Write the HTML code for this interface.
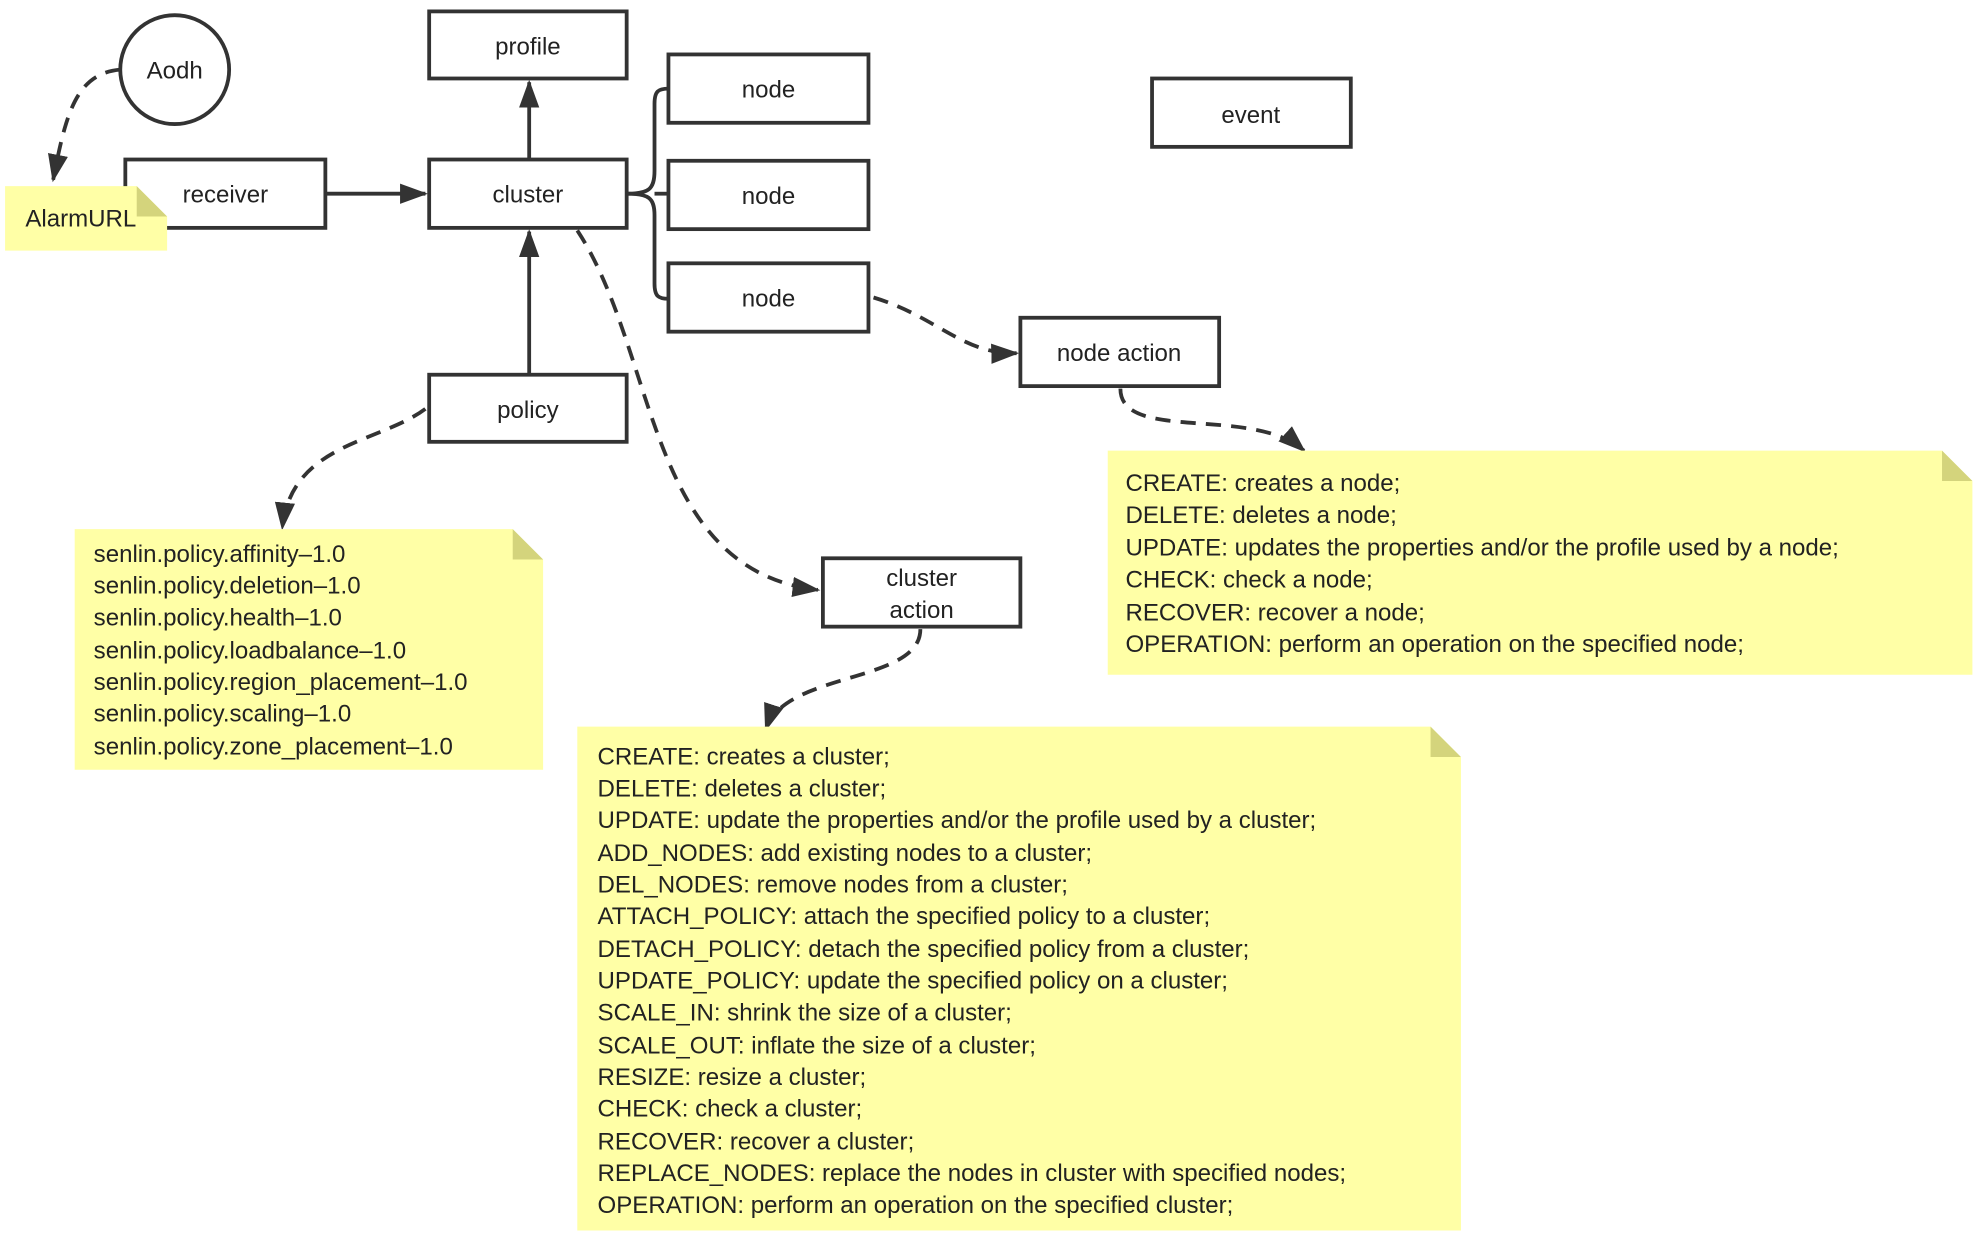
<!DOCTYPE html>
<html><head><meta charset="utf-8"><style>
html,body{margin:0;padding:0;background:#fff;}
svg{display:block;}
text{font-family:"Liberation Sans",sans-serif;fill:#222;}
</style></head><body>
<svg width="1980" height="1240" viewBox="0 0 1564 979.5" preserveAspectRatio="none" xmlns="http://www.w3.org/2000/svg">
<defs>
<marker id="a" markerWidth="10" markerHeight="10" refX="9" refY="5" orient="auto" markerUnits="userSpaceOnUse" viewBox="0 0 10 10">
<path d="M0,0 L10,5 L0,10 z" fill="#333"/>
</marker>
<marker id="b" markerWidth="22" markerHeight="16" refX="20" refY="8" orient="auto" markerUnits="userSpaceOnUse" viewBox="0 0 22 16">
<path d="M0,0 L22,8 L0,16 z" fill="#333"/>
</marker>
</defs>
<g fill="none" stroke="#333" stroke-width="3">
<rect x="339" y="9" width="156" height="53"/>
<rect x="528" y="43" width="158" height="54"/>
<rect x="528" y="127" width="158" height="54"/>
<rect x="528" y="208" width="158" height="54"/>
<rect x="910" y="62" width="157" height="54"/>
<rect x="99" y="126" width="158" height="54"/>
<rect x="339" y="126" width="156" height="54"/>
<rect x="339" y="296" width="156" height="53"/>
<rect x="806" y="251" width="157" height="54"/>
<rect x="650" y="441" width="156" height="54"/>
<circle cx="138" cy="55" r="43"/>
</g>
<g fill="none" stroke="#333" stroke-width="3">
<path d="M257,153 L336,153" marker-end="url(#b)"/>
<path d="M418,126 L418,65" marker-end="url(#b)"/>
<path d="M418,296 L418,183" marker-end="url(#b)"/>
<path d="M495,153 C512,153 517,150 517,135 L517,82 C517,72 520,70 528,70"/>
<path d="M495,153 C512,153 517,156 517,170 L517,224 C517,234 520,236 528,236"/>
<path d="M517,153 L528,153"/>
</g>
<g fill="none" stroke="#333" stroke-width="3" stroke-dasharray="12,8">
<path d="M95,55 C60,58 52,90 42,142" marker-end="url(#b)"/>
<path d="M456,182 C520,280 510,450 646,466" marker-end="url(#b)"/>
<path d="M690,235 C740,250 760,280 803,279" marker-end="url(#b)"/>
<path d="M885,307 C885,350 990,320 1030,356" marker-end="url(#b)"/>
<path d="M727,497 C727,540 620,530 605,576" marker-end="url(#b)"/>
<path d="M336,323 C300,350 230,350 223,417" marker-end="url(#b)"/>
</g>
<g font-size="19" text-anchor="middle">
<text x="138" y="62">Aodh</text>
<text x="417" y="43">profile</text>
<text x="607" y="77">node</text>
<text x="607" y="161">node</text>
<text x="607" y="242">node</text>
<text x="988" y="97">event</text>
<text x="178" y="160">receiver</text>
<text x="417" y="160">cluster</text>
<text x="417" y="330">policy</text>
<text x="884" y="285">node action</text>
<text x="728" y="463">cluster</text>
<text x="728" y="488">action</text>
</g>
<g>
<path d="M4,147 L108,147 L132,171 L132,198 L4,198 z" fill="#ffffa6"/>
<path d="M108,147 L132,171 L108,171 z" fill="#d4d47c"/>
<path d="M875,356 L1534,356 L1558,380 L1558,533 L875,533 z" fill="#ffffa6"/>
<path d="M1534,356 L1558,380 L1534,380 z" fill="#d4d47c"/>
<path d="M59,418 L405,418 L429,442 L429,608 L59,608 z" fill="#ffffa6"/>
<path d="M405,418 L429,442 L405,442 z" fill="#d4d47c"/>
<path d="M456,574 L1130,574 L1154,598 L1154,972 L456,972 z" fill="#ffffa6"/>
<path d="M1130,574 L1154,598 L1130,598 z" fill="#d4d47c"/>
</g>
<g font-size="19">
<text x="20" y="179">AlarmURL</text>
<text x="889" y="388">CREATE: creates a node;</text>
<text x="889" y="413">DELETE: deletes a node;</text>
<text x="889" y="439">UPDATE: updates the properties and/or the profile used by a node;</text>
<text x="889" y="464">CHECK: check a node;</text>
<text x="889" y="490">RECOVER: recover a node;</text>
<text x="889" y="515">OPERATION: perform an operation on the specified node;</text>
<text x="74" y="444">senlin.policy.affinity–1.0</text>
<text x="74" y="469">senlin.policy.deletion–1.0</text>
<text x="74" y="494">senlin.policy.health–1.0</text>
<text x="74" y="520">senlin.policy.loadbalance–1.0</text>
<text x="74" y="545">senlin.policy.region_placement–1.0</text>
<text x="74" y="570">senlin.policy.scaling–1.0</text>
<text x="74" y="596">senlin.policy.zone_placement–1.0</text>
<text x="472" y="604">CREATE: creates a cluster;</text>
<text x="472" y="629">DELETE: deletes a cluster;</text>
<text x="472" y="654">UPDATE: update the properties and/or the profile used by a cluster;</text>
<text x="472" y="680">ADD_NODES: add existing nodes to a cluster;</text>
<text x="472" y="705">DEL_NODES: remove nodes from a cluster;</text>
<text x="472" y="730">ATTACH_POLICY: attach the specified policy to a cluster;</text>
<text x="472" y="756">DETACH_POLICY: detach the specified policy from a cluster;</text>
<text x="472" y="781">UPDATE_POLICY: update the specified policy on a cluster;</text>
<text x="472" y="806">SCALE_IN: shrink the size of a cluster;</text>
<text x="472" y="832">SCALE_OUT: inflate the size of a cluster;</text>
<text x="472" y="857">RESIZE: resize a cluster;</text>
<text x="472" y="882">CHECK: check a cluster;</text>
<text x="472" y="908">RECOVER: recover a cluster;</text>
<text x="472" y="933">REPLACE_NODES: replace the nodes in cluster with specified nodes;</text>
<text x="472" y="958">OPERATION: perform an operation on the specified cluster;</text>
</g>
</svg>
</body></html>
